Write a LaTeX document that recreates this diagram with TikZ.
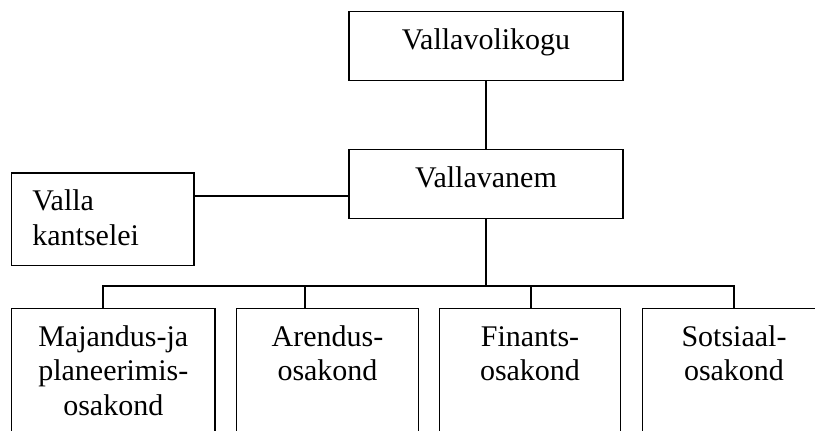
\documentclass[tikz,border=0pt]{standalone}
\usepackage{fontspec}
\setmainfont{Liberation Serif}

\begin{document}
\begin{tikzpicture}
  [x=0.4pt,y=-0.4pt,line width=0.8pt,
   every node/.style={draw,line width=0.5pt,inner sep=0pt,text height=15.1pt,
     font=\fontsize{12}{13.8}\selectfont},
   headbox/.style={anchor=north,minimum width=109.5pt,text depth=12.6pt},
   deptbox/.style={anchor=north,align=center,text depth=60pt}]
  \useasboundingbox (0,0) rectangle (815,431);
  \node[headbox] (nvol) at (486,10.7) {Vallavolikogu};
  \node[headbox] (nvan) at (486,149) {Vallavanem};
  \node[anchor=north west,align=left,text width=56.3pt,inner xsep=8.3pt,
    text depth=22pt] (nkan) at (11,172.3) {Valla\\kantselei};
  \node[deptbox,text width=81.3pt] (nmaj) at (113.3,307.7) {Majandus-ja\\planeerimis-\\osakond};
  \node[deptbox,text width=72.6pt] (nare) at (327.5,307.7) {Arendus-\\osakond};
  \node[deptbox,text width=72.6pt] (nfin) at (530,307.7) {Finants-\\osakond};
  \node[deptbox,text width=73pt] (nsot) at (734,307.7) {Sotsiaal-\\osakond};
  \coordinate (kline) at ([yshift=-4.7pt]nvan.west);
  \coordinate (bus) at (486,286);
  \coordinate (dmaj) at (102.7,286);
  \coordinate (dare) at (305.3,286);
  \coordinate (dfin) at (531,286);
  \coordinate (dsot) at (734,286);
  \draw (nvol) -- (nvan);
  \draw (nvan) -- (bus);
  \draw (kline) -- (kline -| nkan.east);
  \draw (dmaj |- nmaj.north) -- (dmaj) -- (dsot) -- (dsot |- nsot.north);
  \foreach \from/\to in {dare/nare,dfin/nfin}
    \draw (\from) -- (\from |- \to.north);
\end{tikzpicture}
\end{document}
